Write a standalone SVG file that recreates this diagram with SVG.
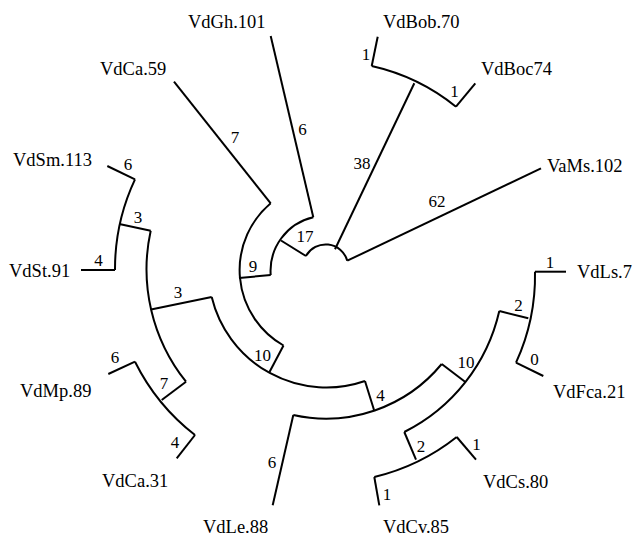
<svg xmlns="http://www.w3.org/2000/svg" width="636" height="537" viewBox="0 0 636 537">
<style>
.e{fill:none;stroke:#000;stroke-width:2;stroke-linecap:butt;stroke-linejoin:miter}
text{fill:#000}
.n{font-size:18.5px}
.l{font-size:17px;text-anchor:middle}
</style>
<rect width="636" height="537" fill="#fff"/>
<g id="connectors">
<path class="e" d="M306 256 A22.5 22.5 0 0 1 347.3 260.7"/>
<line class="e" x1="335" y1="249.3" x2="414.3" y2="83.3"/>
<line class="e" x1="347.3" y1="260.7" x2="541" y2="168.3"/>
<line class="e" x1="306" y1="256" x2="281" y2="240.5"/>
<path class="e" d="M371.7 66 A206 206 0 0 1 456 106.7"/>
<line class="e" x1="371.7" y1="66" x2="377.7" y2="36.7"/>
<line class="e" x1="456" y1="106.7" x2="475.3" y2="83.3"/>
<path class="e" d="M313.3 217.3 A55 55 0 0 0 270.7 275"/>
<line class="e" x1="313.3" y1="217.3" x2="270.7" y2="36"/>
<line class="e" x1="270.7" y1="275" x2="239" y2="278"/>
<path class="e" d="M270.7 203.3 A87 87 0 0 0 283.5 345.5"/>
<line class="e" x1="270.7" y1="203.3" x2="174" y2="81.7"/>
<line class="e" x1="283.5" y1="345.5" x2="269.5" y2="372"/>
<path class="e" d="M211.7 297 A118 118 0 0 0 365 381"/>
<line class="e" x1="211.7" y1="297" x2="151" y2="309.5"/>
<line class="e" x1="365" y1="381" x2="374" y2="410"/>
<path class="e" d="M150.7 230.7 A180 180 0 0 0 186 381.7"/>
<line class="e" x1="150.7" y1="230.7" x2="119.3" y2="224"/>
<line class="e" x1="186" y1="381.7" x2="161.7" y2="400"/>
<path class="e" d="M135 179.3 A211 211 0 0 0 115 270"/>
<line class="e" x1="135" y1="179.3" x2="107.3" y2="166"/>
<line class="e" x1="115" y1="270" x2="81" y2="270"/>
<path class="e" d="M135 361.7 A212 212 0 0 0 195 435"/>
<line class="e" x1="135" y1="361.7" x2="108.3" y2="374"/>
<line class="e" x1="195" y1="435" x2="176.7" y2="458.3"/>
<path class="e" d="M293.3 415 A150 150 0 0 0 441.7 364"/>
<line class="e" x1="293.3" y1="415" x2="272.7" y2="505.3"/>
<line class="e" x1="441.7" y1="364" x2="465" y2="381.7"/>
<path class="e" d="M404.3 432 A180 180 0 0 0 499.3 311"/>
<line class="e" x1="404.3" y1="432" x2="416" y2="459.7"/>
<line class="e" x1="499.3" y1="311" x2="528.3" y2="318.3"/>
<path class="e" d="M374.3 477 A212 212 0 0 0 456.7 437"/>
<line class="e" x1="374.3" y1="477" x2="379.3" y2="505.3"/>
<line class="e" x1="456.7" y1="437" x2="476" y2="459.7"/>
<path class="e" d="M516 362.7 A209 209 0 0 0 535 271.7"/>
<line class="e" x1="535" y1="271.7" x2="566" y2="271.7"/>
<line class="e" x1="516" y1="362.7" x2="543.3" y2="376"/>
</g>
<g id="branch-labels" font-family="Liberation Serif, DejaVu Serif, serif">
<text class="l" x="302.5" y="135">6</text>
<text class="l" x="235" y="143">7</text>
<text class="l" x="366" y="60">1</text>
<text class="l" x="454.5" y="97">1</text>
<text class="l" x="362" y="169">38</text>
<text class="l" x="437" y="207">62</text>
<text class="l" x="305" y="242">17</text>
<text class="l" x="253" y="272">9</text>
<text class="l" x="128" y="170">6</text>
<text class="l" x="138" y="223">3</text>
<text class="l" x="98.5" y="266">4</text>
<text class="l" x="178" y="298">3</text>
<text class="l" x="262.5" y="361">10</text>
<text class="l" x="115" y="363">6</text>
<text class="l" x="164" y="389">7</text>
<text class="l" x="175" y="448">4</text>
<text class="l" x="272" y="468">6</text>
<text class="l" x="380.5" y="401">4</text>
<text class="l" x="466" y="368">10</text>
<text class="l" x="518.5" y="311">2</text>
<text class="l" x="550" y="268">1</text>
<text class="l" x="534.5" y="365">0</text>
<text class="l" x="421" y="452">2</text>
<text class="l" x="476.5" y="450">1</text>
<text class="l" x="387" y="500">1</text>
</g>
<g id="leaves" font-family="Liberation Serif, DejaVu Serif, serif">
<g id="VdGh101"><text class="n" x="188" y="28">VdGh.101</text></g>
<g id="VdCa59"><text class="n" x="100" y="75">VdCa.59</text></g>
<g id="VdBob70"><text class="n" x="383" y="28">VdBob.70</text></g>
<g id="VdBoc74"><text class="n" x="481" y="75">VdBoc74</text></g>
<g id="VaMs102"><text class="n" x="547" y="172">VaMs.102</text></g>
<g id="VdSm113"><text class="n" x="13" y="166">VdSm.113</text></g>
<g id="VdSt91"><text class="n" x="9" y="277">VdSt.91</text></g>
<g id="VdMp89"><text class="n" x="20" y="397">VdMp.89</text></g>
<g id="VdCa31"><text class="n" x="102" y="487">VdCa.31</text></g>
<g id="VdLe88"><text class="n" x="203" y="533">VdLe.88</text></g>
<g id="VdCv85"><text class="n" x="383" y="533">VdCv.85</text></g>
<g id="VdCs80"><text class="n" x="483" y="488">VdCs.80</text></g>
<g id="VdFca21"><text class="n" x="553" y="398">VdFca.21</text></g>
<g id="VdLs7"><text class="n" x="577" y="278">VdLs.7</text></g>
</g>
</svg>
